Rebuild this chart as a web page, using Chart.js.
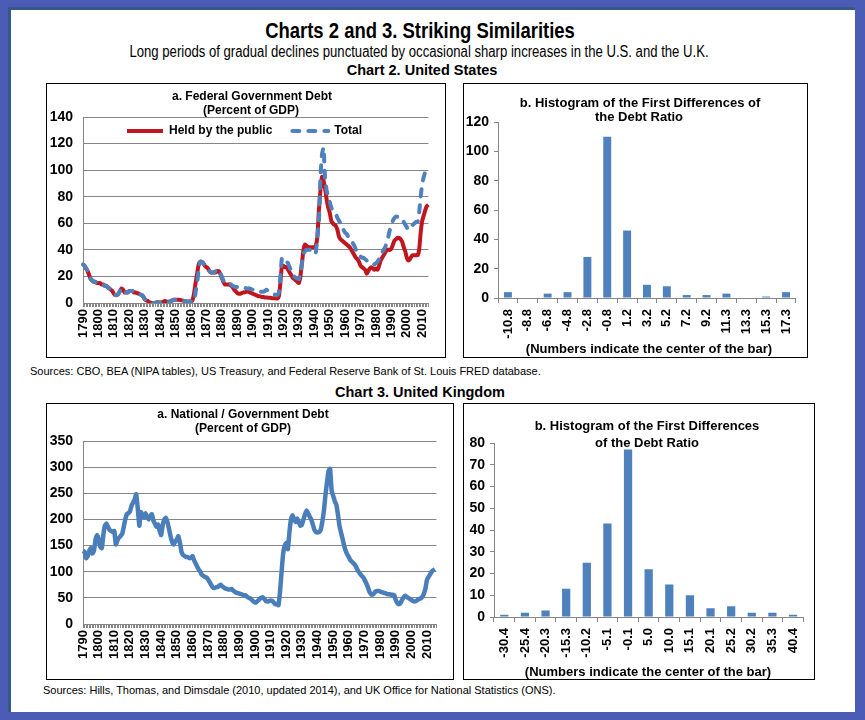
<!DOCTYPE html>
<html><head><meta charset="utf-8">
<script src="https://cdn.jsdelivr.net/npm/chart.js@4.4.1/dist/chart.umd.min.js"></script>
<style>
html,body{margin:0;padding:0;}
body{width:865px;height:720px;background:#4a5cb5;position:relative;overflow:hidden;font-family:'Liberation Sans',Arial,sans-serif;color:#000;}
#panel{position:absolute;left:8px;top:7px;width:847px;height:705px;background:#fff;border-left:3px solid #37598a;border-top:3px solid #37598a;box-sizing:border-box;}
.t{position:absolute;white-space:nowrap;line-height:1;transform:translate(-50%,-50%);}
.l{position:absolute;white-space:nowrap;line-height:1;transform:translateY(-50%);}
.box{position:absolute;border:1px solid #000;box-sizing:border-box;pointer-events:none;}
canvas{position:absolute;}
.narrow{font-family:'Liberation Sans Narrow','Arial Narrow',sans-serif;}
.b{font-weight:bold;}
</style></head><body>
<div id="panel"></div>

<div class="t narrow b" style="left:420px;top:31px;font-size:22.5px;">Charts 2 and 3. Striking Similarities</div>
<div class="t narrow" style="left:419px;top:52px;font-size:16px;">Long periods of gradual declines punctuated by occasional sharp increases in the U.S. and the U.K.</div>
<div class="t b" style="left:422px;top:70px;font-size:14.5px;">Chart 2. United States</div>
<div class="l" style="left:30px;top:371px;font-size:11px;">Sources: CBO, BEA (NIPA tables), US Treasury, and Federal Reserve Bank of St. Louis FRED  database.</div>
<div class="t b" style="left:420px;top:392px;font-size:14.5px;">Chart 3. United Kingdom</div>
<div class="l" style="left:43px;top:690px;font-size:11px;">Sources: Hills, Thomas,  and Dimsdale (2010, updated 2014), and UK Office for National Statistics (ONS).</div>

<canvas id="c1" width="400" height="275" style="left:46px;top:83px;"></canvas>
<canvas id="c2" width="345" height="275" style="left:463px;top:83px;"></canvas>
<canvas id="c3" width="408" height="277" style="left:46px;top:403px;"></canvas>
<canvas id="c4" width="352" height="277" style="left:463px;top:403px;"></canvas>

<div class="box" style="left:46px;top:83px;width:400px;height:275px;"></div>
<div class="box" style="left:463px;top:83px;width:345px;height:275px;"></div>
<div class="box" style="left:46px;top:403px;width:408px;height:277px;"></div>
<div class="box" style="left:463px;top:403px;width:352px;height:277px;"></div>

<div class="t b" style="left:252px;top:96px;font-size:12px;">a. Federal Government Debt</div>
<div class="t b" style="left:251px;top:110px;font-size:12px;">(Percent of GDP)</div>
<div class="t b" style="left:640px;top:102px;font-size:13px;">b. Histogram of the First Differences of</div>
<div class="t b" style="left:639px;top:116px;font-size:13px;">the Debt Ratio</div>
<div class="t b" style="left:649px;top:348px;font-size:13px;">(Numbers indicate the center of the bar)</div>

<div class="t b" style="left:243px;top:414px;font-size:12px;">a. National / Government Debt</div>
<div class="t b" style="left:243px;top:428px;font-size:12px;">(Percent of GDP)</div>
<div class="t b" style="left:647px;top:425px;font-size:13px;">b. Histogram of the First Differences</div>
<div class="t b" style="left:647px;top:442px;font-size:13px;">of the Debt Ratio</div>
<div class="t b" style="left:648px;top:671px;font-size:13px;">(Numbers indicate the center of the bar)</div>

<script>
// ---------- DATA ----------
const usFirstYear = 1790, usLastYear = 2014;
const usPublic = [
  29, 28, 26, 24, 21, 18, 17, 16, 16, 15,
  15, 15, 14, 14, 13, 13, 12, 11, 10, 9,
  7, 6, 6, 7, 9, 11, 10, 8, 8, 8,
  9, 9, 9, 8, 8, 7.5, 7, 6.5, 6, 5,
  3, 2, 1.5, 0.5, 0.2, 0, 0, 0.2, 0.5, 0.5,
  0.3, 0.5, 0.8, 1.5, 1.2, 1, 1, 1.5, 2, 2.5,
  2.5, 2.5, 2.5, 2.3, 2, 1.8, 1.5, 1.3, 1, 1.2,
  1, 2, 7, 15, 22, 29, 31, 31, 30, 28,
  27, 26, 24, 23, 23, 23, 23, 24, 24, 22,
  19, 16, 14, 14, 14, 14, 13, 12, 10, 9,
  7.5, 7, 7, 7.5, 8, 8, 8.5, 8.5, 8, 7.5,
  7, 6.5, 6, 5.5, 5, 5, 4.5, 4.5, 4.2, 4.2,
  4, 4, 3.8, 3.5, 3.5, 3.5, 3.3, 5, 15, 28,
  28, 27, 27, 25, 23, 21, 19, 18, 17, 16,
  15, 20, 30, 40, 44, 43, 42, 42, 42, 42,
  42, 43, 50, 70, 85, 95, 92, 86, 78, 72,
  68, 62, 60, 59, 58, 55, 50, 48, 47, 46,
  45, 44, 43, 42, 40, 38, 36, 34, 33, 31,
  28, 27, 26, 25, 22, 24, 26, 27, 26, 25,
  26, 25, 28, 32, 34, 36, 38, 40, 40, 40,
  41, 44, 47, 48, 49, 49, 48, 46, 42, 39,
  34, 32, 33, 35, 36, 36, 36, 36, 40, 53,
  62, 66, 70, 73, 74
];
const usTotal = [
  29, 28, 26, 24, 21, 18, 17, 16, 16, 15,
  15, 15, 14, 14, 13, 13, 12, 11, 10, 9,
  7, 6, 6, 7, 9, 11, 10, 8, 8, 8,
  9, 9, 9, 8, 8, 7.5, 7, 6.5, 6, 5,
  3, 2, 1.5, 0.5, 0.2, 0, 0, 0.2, 0.5, 0.5,
  0.3, 0.5, 0.8, 1.5, 1.2, 1, 1, 1.5, 2, 2.5,
  2.5, 2.5, 2.5, 2.3, 2, 1.8, 1.5, 1.3, 1, 1.2,
  1, 0.8, 1, 8, 15, 25, 31, 31, 30, 28,
  27, 26, 24, 23, 23, 23, 24, 25, 25, 23,
  20, 17, 15, 15, 15, 15, 14, 13, 12.5, 12,
  12, 12, 11.5, 11.5, 11.5, 11.5, 11, 11, 11, 10.5,
  10, 10, 9.5, 9, 8.5, 8.5, 8.5, 8.5, 9, 10,
  9, 8, 7.5, 7, 6.5, 6, 6, 8, 20, 34,
  34, 32, 31, 30, 27, 24, 22, 20, 19, 18.5,
  18, 22, 30, 37, 39, 40, 40, 40, 40, 39,
  37, 38, 50, 62, 95, 112, 117, 93, 85, 79,
  76, 72, 69, 68, 67, 64, 62, 60, 58, 55,
  53, 52, 50, 48, 47, 45, 43, 40, 39, 37,
  35, 34, 34, 33, 32, 31, 31, 31, 30, 29,
  30, 31, 33, 36, 38, 40, 42, 46, 50, 55,
  59, 62, 64, 65, 65, 65, 64, 62, 61, 59,
  57, 55, 56, 58, 59, 60, 61, 61, 68, 80,
  90, 95, 99, 101, 103
];
const usYTicks = [0, 20, 40, 60, 80, 100, 120, 140];

const usBins = ['-10.8', '-8.8', '-6.8', '-4.8', '-2.8', '-0.8', '1.2', '3.2', '5.2', '7.2', '9.2', '11.3', '13.3', '15.3', '17.3'];
const usCounts = [4, 0, 3, 4, 28, 110, 46, 9, 8, 2, 2, 3, 0, 1, 4];
const usHistYTicks = [0, 20, 40, 60, 80, 100, 120];

const ukFirstYear = 1790, ukLastYear = 2016;
const ukDebt = [
  140, 138, 126, 130, 140, 145, 135, 140, 161, 170,
  163, 148, 145, 170, 188, 192, 186, 180, 178, 176,
  178, 152, 160, 165, 168, 172, 185, 200, 210, 212,
  215, 226, 232, 238, 248, 222, 188, 214, 206, 204,
  212, 205, 200, 206, 210, 198, 192, 186, 190, 178,
  170, 190, 200, 203, 195, 182, 168, 157, 152, 158,
  162, 168, 155, 138, 132, 130, 128, 128, 126, 127,
  130, 122, 116, 110, 104, 100, 94, 92, 90, 89,
  85, 80, 75, 70, 69, 70, 71, 73, 75, 72,
  70, 68, 67, 66, 66, 67, 64, 62, 60, 59,
  58, 57, 56, 55, 55, 52, 50, 49, 46, 43,
  41, 42, 45, 48, 50, 51, 48, 44, 43, 44,
  45, 44, 41, 38, 38, 36, 62, 100, 135, 150,
  155, 143, 175, 200, 208, 200, 195, 202, 195, 188,
  190, 200, 210, 217, 212, 205, 200, 190, 180, 176,
  175, 176, 180, 195, 215, 245, 270, 292, 297, 255,
  245, 235, 228, 210, 188, 175, 163, 150, 140, 133,
  128, 122, 119, 116, 113, 107, 101, 97, 93, 90,
  85, 79, 72, 63, 58, 56, 58, 62, 63, 63,
  62, 61, 60, 59, 58, 57, 57, 56, 56, 55,
  46, 40, 38, 40, 46, 51, 54, 52, 50, 48,
  46, 44, 43, 44, 46, 48, 49, 52, 58, 68,
  85, 90, 95, 100, 103, 105
];
const ukYTicks = [0, 50, 100, 150, 200, 250, 300, 350];

const ukBins = ['-30.4', '-25.4', '-20.3', '-15.3', '-10.2', '-5.1', '-0.1', '5.0', '10.0', '15.1', '20.1', '25.2', '30.2', '35.3', '40.4'];
const ukCounts = [1, 2, 3, 13, 25, 43, 77, 22, 15, 10, 4, 5, 2, 2, 1];
const ukHistYTicks = [0, 10, 20, 30, 40, 50, 60, 70, 80];

// ---------- STYLE ----------
const RED = '#C0161E', BLUE = '#4F81BD', LBLUE = '#4A7EBB', GRID = '#868686';

// narrow font fallback
(function(){
  const c = document.createElement('canvas').getContext('2d');
  const s = 'Charts 2 and 3. Striking Similarities';
  c.font = '20px monospace'; const a = c.measureText(s).width;
  c.font = "20px 'Liberation Sans Narrow', monospace"; const b = c.measureText(s).width;
  if (Math.abs(a - b) < 0.5) {
    document.querySelectorAll('.narrow').forEach(e => {
      e.style.fontFamily = "'Liberation Sans', Arial, sans-serif";
      e.style.transform = 'translate(-50%,-50%) scaleX(0.82)';
    });
  }
})();

Chart.defaults.font.family = "'Liberation Sans', Arial, sans-serif";
Chart.defaults.color = '#000';
Chart.defaults.animation = false;

function years(a, b) { const r = []; for (let y = a; y <= b; y++) r.push(String(y)); return r; }
function decadeTick(v) { const s = this.getLabelForValue(v); return (+s) % 10 === 0 ? s : ''; }
function tickList(list) { return function(scale) { scale.ticks = list.map(v => ({ value: v })); }; }

// moves the (horizontal) legend inside the plot area
const legendMover = {
  id: 'legendMover',
  afterLayout(chart, args, o) {
    if (!o || o.top === undefined) return;
    const lg = chart.legend;
    lg.top = o.top; lg.bottom = o.top + 60;
    lg.left = o.left; lg.right = chart.width;
  }
};

function lineChart(id, labels, datasets, yTicks, pad, xH, yW, legend) {
  return new Chart(document.getElementById(id), {
    type: 'line',
    data: { labels: labels, datasets: datasets },
    plugins: [legendMover],
    options: {
      responsive: false, devicePixelRatio: 1, events: [],
      layout: { padding: pad },
      elements: { point: { radius: 0 }, line: { tension: 0.15 } },
      plugins: {
        tooltip: { enabled: false },
        legendMover: legend || {},
        legend: legend ? {
          position: 'top', align: 'start', maxHeight: 20,
          labels: { usePointStyle: true, pointStyle: 'line', pointStyleWidth: 36, padding: 20,
            font: { size: 12, weight: 'bold' }, color: '#000',
            sort: (a, b) => a.datasetIndex - b.datasetIndex,
            generateLabels: (chart) => {
              const items = Chart.defaults.plugins.legend.labels.generateLabels(chart);
              items.forEach(it => {
                const ds = chart.data.datasets[it.datasetIndex];
                it.lineDash = ds.borderDash || [];
                it.lineCap = ds.borderCapStyle || 'butt';
                it.lineWidth = ds.borderWidth;
                it.strokeStyle = ds.borderColor;
              });
              return items;
            } }
        } : { display: false }
      },
      scales: {
        x: {
          ticks: { autoSkip: false, minRotation: 90, maxRotation: 90, padding: 2,
            font: { size: 13, weight: 'bold' }, color: '#000', callback: decadeTick },
          grid: { drawOnChartArea: false, color: GRID, tickLength: 4 },
          border: { color: GRID },
          afterFit: s => { s.height = xH; }
        },
        y: {
          min: yTicks[0], max: yTicks[yTicks.length - 1],
          afterBuildTicks: tickList(yTicks),
          ticks: { padding: 10, font: { size: 14, weight: 'bold' }, color: '#000' },
          grid: { color: GRID, drawTicks: false },
          border: { color: GRID },
          afterFit: s => { s.width = yW; }
        }
      }
    }
  });
}

function histChart(id, labels, counts, yTicks, pad, xH, yW) {
  return new Chart(document.getElementById(id), {
    type: 'bar',
    data: { labels: labels, datasets: [{ data: counts, backgroundColor: BLUE, barPercentage: 0.4, categoryPercentage: 1 }] },
    options: {
      responsive: false, devicePixelRatio: 1, events: [],
      layout: { padding: pad },
      plugins: { tooltip: { enabled: false }, legend: { display: false } },
      scales: {
        x: {
          ticks: { autoSkip: false, minRotation: 90, maxRotation: 90, padding: 6,
            font: { size: 13, weight: 'bold' }, color: '#000' },
          grid: { drawOnChartArea: false, color: GRID, tickLength: 5 },
          border: { color: GRID },
          afterFit: s => { s.height = xH; }
        },
        y: {
          min: yTicks[0], max: yTicks[yTicks.length - 1],
          afterBuildTicks: tickList(yTicks),
          ticks: { padding: 5, font: { size: 14, weight: 'bold' }, color: '#000' },
          grid: { drawOnChartArea: false, color: GRID, tickLength: 4 },
          border: { color: GRID },
          afterFit: s => { s.width = yW; }
        }
      }
    }
  });
}

lineChart('c1', years(usFirstYear, usLastYear), [
  { label: 'Held by the public', data: usPublic, borderColor: RED, backgroundColor: RED, borderWidth: 4, order: 1 },
  { label: 'Total', data: usTotal, borderColor: BLUE, backgroundColor: BLUE, borderWidth: 4,
    borderDash: [7, 9], borderCapStyle: 'round', order: 0 }
], usYTicks, { left: 0, top: 14, right: 9, bottom: 0 }, 55, 37, { top: 22, left: 61 });

histChart('c2', usBins, usCounts, usHistYTicks, { left: 0, top: 39, right: 11, bottom: 0 }, 60, 35);

lineChart('c3', years(ukFirstYear, ukLastYear), [
  { label: 'UK', data: ukDebt, borderColor: LBLUE, backgroundColor: LBLUE, borderWidth: 4.5 }
], ukYTicks, { left: 0, top: 38, right: 3, bottom: 0 }, 56, 37, null);

histChart('c4', ukBins, ukCounts, ukHistYTicks, { left: 0, top: 40, right: 11, bottom: 0 }, 63, 31);
</script>
</body></html>
